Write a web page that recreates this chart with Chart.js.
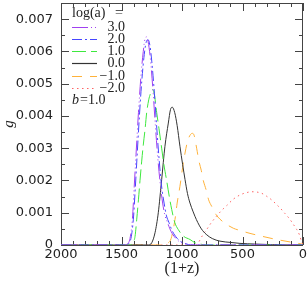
<!DOCTYPE html>
<html>
<head>
<meta charset="utf-8">
<script src="https://cdn.jsdelivr.net/npm/chart.js@4/dist/chart.umd.min.js"></script>
<style>
  html, body { margin: 0; padding: 0; background: #fff; }
  canvas { display: block; }
</style>
</head>
<body>
<canvas id="chart" width="307" height="285"></canvas>
<script>
// ─── Data ───────────────────────────────────────────────────────────────────
const labels = ['3.0', '2.0', '1.0', '0.0', '\u22121.0', '\u22122.0'];

const x30 = [2000, 1470, 1450, 1430, 1410, 1395, 1380, 1360, 1340, 1320, 1305, 1293, 1280, 1262, 1240, 1220, 1200, 1180, 1160, 1140, 1120, 1100, 1080, 1050, 1020, 980, 940, 0];
const y30 = [0, 0, 0.00004, 0.0002, 0.0008, 0.0018, 0.0028, 0.0041, 0.0052, 0.0060, 0.0064, 0.00645, 0.0063, 0.0058, 0.0048, 0.0037, 0.0027, 0.0019, 0.0013, 0.0009, 0.0007, 0.0005, 0.00035, 0.0002, 0.0001, 0.00004, 0, 0];

const x20 = [2000, 1462, 1442, 1422, 1402, 1387, 1372, 1352, 1332, 1312, 1295, 1280, 1266, 1250, 1228, 1208, 1188, 1168, 1148, 1128, 1108, 1088, 1068, 1038, 1008, 968, 928, 0];
const y20 = [0, 0, 0.00004, 0.0002, 0.0008, 0.0017, 0.0027, 0.0040, 0.0051, 0.0059, 0.0063, 0.00636, 0.0062, 0.0057, 0.0047, 0.0036, 0.0026, 0.0018, 0.0013, 0.0009, 0.0007, 0.0005, 0.00035, 0.0002, 0.0001, 0.00004, 0, 0];

const x10 = [2000, 1420, 1400, 1388, 1374, 1360, 1347, 1333, 1320, 1305, 1292, 1275, 1260, 1245, 1230, 1209, 1190, 1168, 1150, 1127, 1105, 1085, 1060, 1031, 990, 934, 893, 850, 800, 0];
const y10 = [0, 0, 0.0001, 0.00027, 0.0008, 0.0014, 0.0020, 0.0026, 0.0031, 0.0036, 0.0041, 0.0045, 0.0047, 0.00482, 0.0047, 0.0041, 0.0036, 0.0030, 0.0025, 0.0020, 0.0015, 0.0011, 0.0007, 0.00048, 0.00028, 0.00017, 0.00007, 0.00003, 0, 0];

const x00 = [2000, 1280, 1250, 1223, 1196, 1168, 1141, 1113, 1095, 1080, 1060, 1040, 1017, 995, 975, 955, 934, 910, 893, 870, 840, 800, 750, 686, 600, 521, 400, 250, 0];
const y00 = [0, 0, 0.00007, 0.00038, 0.0010, 0.00203, 0.00306, 0.00378, 0.0042, 0.00427, 0.0041, 0.0037, 0.00306, 0.0025, 0.00203, 0.0016, 0.0013, 0.00105, 0.00089, 0.0007, 0.0005, 0.00033, 0.0002, 0.00012, 0.00008, 0.00005, 0.00003, 0.00001, 0];

const xm1 = [2000, 1150, 1120, 1090, 1058, 1040, 1017, 995, 975, 955, 934, 915, 900, 879, 860, 840, 824, 800, 780, 755, 720, 686, 640, 576, 521, 438, 350, 217, 100, 25, 0];
const ym1 = [0, 0, 0.00005, 0.0002, 0.00079, 0.0013, 0.00182, 0.0024, 0.00285, 0.0032, 0.0034, 0.00346, 0.0034, 0.0030, 0.0026, 0.0023, 0.0020, 0.0017, 0.0014, 0.0012, 0.00095, 0.0008, 0.00066, 0.00052, 0.00045, 0.00036, 0.00028, 0.00017, 0.00009, 0.00004, 0.00002];

const xm2 = [2000, 880, 860, 830, 796, 760, 713, 670, 631, 576, 521, 470, 424, 380, 340, 300, 260, 220, 190, 150, 107, 80, 52, 30, 11, 0];
const ym2 = [0, 0, 0.0001, 0.0003, 0.00048, 0.00068, 0.0009, 0.00108, 0.00122, 0.00142, 0.00155, 0.00162, 0.00165, 0.00164, 0.0016, 0.00151, 0.0014, 0.00126, 0.00115, 0.00098, 0.00079, 0.00064, 0.00048, 0.00032, 0.0001, 0.00002];

const xTicks = [2000, 1500, 1000, 500, 0];
const yTicks = [0, 0.001, 0.002, 0.003, 0.004, 0.005, 0.006, 0.007];

// ─── Series styles ──────────────────────────────────────────────────────────
const series = [
  { xs: x30, ys: y30, color: '#a040f0', dash: [16, 3, 1, 3, 1, 3, 1, 3] },
  { xs: x20, ys: y20, color: '#4646ff', dash: [10, 3, 2, 3] },
  { xs: x10, ys: y10, color: '#3ee83e', dash: [14, 5] },
  { xs: x00, ys: y00, color: '#333333', dash: [] },
  { xs: xm1, ys: ym1, color: '#ffb23a', dash: [10, 8] },
  { xs: xm2, ys: ym2, color: '#ff6464', dash: [1.5, 3.5] },
];

const SERIF = '"Liberation Serif", "DejaVu Serif", serif';
const SANS  = '"DejaVu Sans", sans-serif';
const INK   = '#222';

// ─── Frame + inward ticks on all four sides ─────────────────────────────────
const framePlugin = {
  id: 'frame',
  beforeDatasetsDraw(chart) {
    const { ctx, chartArea: a, scales: { x, y } } = chart;
    ctx.save();
    ctx.strokeStyle = '#444';
    ctx.lineWidth = 1;
    ctx.strokeRect(a.left + 0.5, a.top + 0.5, a.right - a.left - 1, a.bottom - a.top);
    ctx.beginPath();
    for (let v = 0; v <= 2000; v += 100) {
      const px = Math.round(x.getPixelForValue(v)) + 0.5;
      const len = v % 500 === 0 ? 8 : 4;
      ctx.moveTo(px, a.bottom); ctx.lineTo(px, a.bottom - len);
      ctx.moveTo(px, a.top);    ctx.lineTo(px, a.top + len);
    }
    for (let i = 0; i <= 15; i++) {
      const py = Math.round(y.getPixelForValue(i * 0.0005)) + 0.5;
      const len = i % 2 === 0 ? 8 : 4;
      ctx.moveTo(a.left, py);  ctx.lineTo(a.left + len, py);
      ctx.moveTo(a.right, py); ctx.lineTo(a.right - len, py);
    }
    ctx.stroke();
    ctx.restore();
  }
};

// ─── Legend block (top-left) ────────────────────────────────────────────────
const legendPlugin = {
  id: 'legendBlock',
  afterDraw(chart) {
    const { ctx } = chart;
    ctx.save();
    ctx.fillStyle = INK;
    ctx.textBaseline = 'middle';
    ctx.font = '14px ' + SERIF;
    ctx.textAlign = 'left';
    ctx.fillText('log(a)', 72, 13.5);
    ctx.fillText('=', 115, 13.5);

    series.forEach((s, i) => {
      const yy = Math.round(26.5 + i * 12.25) + 0.5;
      ctx.strokeStyle = s.color;
      ctx.lineWidth = 1.2;
      ctx.setLineDash(s.dash);
      ctx.beginPath();
      ctx.moveTo(72, yy); ctx.lineTo(97, yy);
      ctx.stroke();
      ctx.setLineDash([]);
      ctx.textAlign = 'right';
      ctx.fillText(labels[i], 125, yy);
    });

    ctx.textAlign = 'left';
    ctx.font = 'italic 14px ' + SERIF;
    ctx.fillText('b', 72, 100);
    ctx.font = '14px ' + SERIF;
    ctx.fillText('=1.0', 80, 100);
    ctx.restore();
  }
};

new Chart(document.getElementById('chart'), {
  type: 'scatter',
  data: {
    datasets: series.map((s, i) => ({
      label: labels[i],
      data: s.xs.map((xv, k) => ({ x: xv, y: s.ys[k] })),
      showLine: true,
      borderColor: s.color,
      backgroundColor: s.color,
      borderWidth: 1,
      borderDash: s.dash,
      pointRadius: 0,
      cubicInterpolationMode: 'monotone',
    }))
  },
  options: {
    responsive: false,
    devicePixelRatio: 1,
    animation: false,
    layout: { padding: { top: 3, right: 4, left: 0, bottom: 0 } },
    plugins: { legend: { display: false }, tooltip: { enabled: false } },
    scales: {
      x: {
        type: 'linear', min: 0, max: 2000, reverse: true,
        grid: { display: false, drawTicks: false },
        border: { display: false },
        afterBuildTicks: s => { s.ticks = xTicks.map(v => ({ value: v })); },
        ticks: { color: INK, font: { family: SANS, size: 13 }, padding: 2, maxRotation: 0, autoSkip: false, callback: v => String(v) },
        title: { display: true, text: '(1+z)', color: INK, font: { family: SERIF, size: 16 }, padding: { top: 0, bottom: 7 } },
        afterFit: s => { s.height = 40; s.paddingLeft = 0; s.paddingRight = 0; },
      },
      y: {
        type: 'linear', min: 0, max: 0.0075,
        grid: { display: false, drawTicks: false },
        border: { display: false },
        afterBuildTicks: s => { s.ticks = yTicks.map(v => ({ value: v })); },
        ticks: { color: INK, font: { family: SANS, size: 13 }, padding: 8, callback: v => v === 0 ? '0' : v.toFixed(3) },
        title: { display: true, text: 'g', color: INK, font: { family: SERIF, size: 15, style: 'italic' }, padding: { top: 0, bottom: 0 } },
        afterFit: s => { s.width = 61; s.paddingTop = 0; s.paddingBottom = 0; },
      }
    }
  },
  plugins: [framePlugin, legendPlugin]
});
</script>
</body>
</html>
